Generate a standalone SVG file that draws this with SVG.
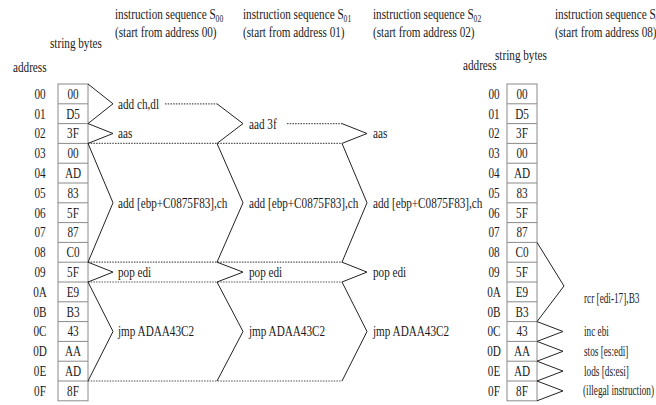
<svg xmlns="http://www.w3.org/2000/svg" width="656" height="405" viewBox="0 0 656 405">
<style>
text{font-family:"Liberation Serif","Times New Roman",serif;font-size:14px;fill:#1a1a1a}
.m{text-anchor:middle}
.sub{font-size:9.5px}
.box{fill:#fff;stroke:#8a8a8a;stroke-width:1}
.sep{stroke:#8a8a8a;stroke-width:1}
.ch{fill:none;stroke:#222;stroke-width:1}
.dot{fill:none;stroke:#555;stroke-width:1.2;stroke-dasharray:1.5 1.2}
</style>
<rect width="656" height="405" fill="#fff"/>

<g id="headings">
<text transform="translate(115 19) scale(0.8 1)">instruction sequence S<tspan class="sub" dy="3">00</tspan></text>
<text transform="translate(115 37) scale(0.8 1)">(start from address 00)</text>
<text transform="translate(243 19) scale(0.8 1)">instruction sequence S<tspan class="sub" dy="3">01</tspan></text>
<text transform="translate(243 37) scale(0.8 1)">(start from address 01)</text>
<text transform="translate(373 19) scale(0.8 1)">instruction sequence S<tspan class="sub" dy="3">02</tspan></text>
<text transform="translate(373 37) scale(0.8 1)">(start from address 02)</text>
<text transform="translate(555 19) scale(0.8 1)">instruction sequence S<tspan class="sub" dy="3">08</tspan></text>
<text transform="translate(555 37) scale(0.8 1)">(start from address 08)</text>
</g>

<g id="table-left">
<text transform="translate(50 48) scale(0.8 1)">string bytes</text>
<text transform="translate(13 72) scale(0.8 1)">address</text>
<rect class="box" x="58" y="84" width="30" height="316.8"/>
<path class="sep" d="M58 103.8H88M58 123.6H88M58 143.4H88M58 163.2H88M58 183H88M58 202.8H88M58 222.6H88M58 242.4H88M58 262.2H88M58 282H88M58 301.8H88M58 321.6H88M58 341.4H88M58 361.2H88M58 381H88"/>
<g class="m">
<text transform="translate(40 98.8) scale(0.8 1)">00</text>
<text transform="translate(40 118.6) scale(0.8 1)">01</text>
<text transform="translate(40 138.4) scale(0.8 1)">02</text>
<text transform="translate(40 158.2) scale(0.8 1)">03</text>
<text transform="translate(40 178) scale(0.8 1)">04</text>
<text transform="translate(40 197.8) scale(0.8 1)">05</text>
<text transform="translate(40 217.6) scale(0.8 1)">06</text>
<text transform="translate(40 237.4) scale(0.8 1)">07</text>
<text transform="translate(40 257.2) scale(0.8 1)">08</text>
<text transform="translate(40 277) scale(0.8 1)">09</text>
<text transform="translate(40 296.8) scale(0.8 1)">0A</text>
<text transform="translate(40 316.6) scale(0.8 1)">0B</text>
<text transform="translate(40 336.4) scale(0.8 1)">0C</text>
<text transform="translate(40 356.2) scale(0.8 1)">0D</text>
<text transform="translate(40 376) scale(0.8 1)">0E</text>
<text transform="translate(40 395.8) scale(0.8 1)">0F</text>
<text transform="translate(73 98.8) scale(0.8 1)">00</text>
<text transform="translate(73 118.6) scale(0.8 1)">D5</text>
<text transform="translate(73 138.4) scale(0.8 1)">3F</text>
<text transform="translate(73 158.2) scale(0.8 1)">00</text>
<text transform="translate(73 178) scale(0.8 1)">AD</text>
<text transform="translate(73 197.8) scale(0.8 1)">83</text>
<text transform="translate(73 217.6) scale(0.8 1)">5F</text>
<text transform="translate(73 237.4) scale(0.8 1)">87</text>
<text transform="translate(73 257.2) scale(0.8 1)">C0</text>
<text transform="translate(73 277) scale(0.8 1)">5F</text>
<text transform="translate(73 296.8) scale(0.8 1)">E9</text>
<text transform="translate(73 316.6) scale(0.8 1)">B3</text>
<text transform="translate(73 336.4) scale(0.8 1)">43</text>
<text transform="translate(73 356.2) scale(0.8 1)">AA</text>
<text transform="translate(73 376) scale(0.8 1)">AD</text>
<text transform="translate(73 395.8) scale(0.8 1)">8F</text>
</g>
</g>

<g id="table-right">
<text transform="translate(495 60) scale(0.8 1)">string bytes</text>
<text transform="translate(463 70) scale(0.8 1)">address</text>
<rect class="box" x="507" y="84" width="30" height="316.8"/>
<path class="sep" d="M507 103.8H537M507 123.6H537M507 143.4H537M507 163.2H537M507 183H537M507 202.8H537M507 222.6H537M507 242.4H537M507 262.2H537M507 282H537M507 301.8H537M507 321.6H537M507 341.4H537M507 361.2H537M507 381H537"/>
<g class="m">
<text transform="translate(494 98.8) scale(0.8 1)">00</text>
<text transform="translate(494 118.6) scale(0.8 1)">01</text>
<text transform="translate(494 138.4) scale(0.8 1)">02</text>
<text transform="translate(494 158.2) scale(0.8 1)">03</text>
<text transform="translate(494 178) scale(0.8 1)">04</text>
<text transform="translate(494 197.8) scale(0.8 1)">05</text>
<text transform="translate(494 217.6) scale(0.8 1)">06</text>
<text transform="translate(494 237.4) scale(0.8 1)">07</text>
<text transform="translate(494 257.2) scale(0.8 1)">08</text>
<text transform="translate(494 277) scale(0.8 1)">09</text>
<text transform="translate(494 296.8) scale(0.8 1)">0A</text>
<text transform="translate(494 316.6) scale(0.8 1)">0B</text>
<text transform="translate(494 336.4) scale(0.8 1)">0C</text>
<text transform="translate(494 356.2) scale(0.8 1)">0D</text>
<text transform="translate(494 376) scale(0.8 1)">0E</text>
<text transform="translate(494 395.8) scale(0.8 1)">0F</text>
<text transform="translate(522 98.8) scale(0.8 1)">00</text>
<text transform="translate(522 118.6) scale(0.8 1)">D5</text>
<text transform="translate(522 138.4) scale(0.8 1)">3F</text>
<text transform="translate(522 158.2) scale(0.8 1)">00</text>
<text transform="translate(522 178) scale(0.8 1)">AD</text>
<text transform="translate(522 197.8) scale(0.8 1)">83</text>
<text transform="translate(522 217.6) scale(0.8 1)">5F</text>
<text transform="translate(522 237.4) scale(0.8 1)">87</text>
<text transform="translate(522 257.2) scale(0.8 1)">C0</text>
<text transform="translate(522 277) scale(0.8 1)">5F</text>
<text transform="translate(522 296.8) scale(0.8 1)">E9</text>
<text transform="translate(522 316.6) scale(0.8 1)">B3</text>
<text transform="translate(522 336.4) scale(0.8 1)">43</text>
<text transform="translate(522 356.2) scale(0.8 1)">AA</text>
<text transform="translate(522 376) scale(0.8 1)">AD</text>
<text transform="translate(522 395.8) scale(0.8 1)">8F</text>
</g>
</g>

<g id="connectors">
<path class="dot" d="M165 103.8H217M287 123.6H342M88 143.4H342M88 262.2H342M88 282H342M88 381H342"/>
<path class="ch" d="M88 84L113 103.8L88 123.6L113 133.5L88 143.4L113 202.8L88 262.2L113 272.1L88 282L113 331.5L88 381"/>
<path class="ch" d="M217 103.8L243 123.6L217 143.4L243 202.8L217 262.2L243 272.1L217 282L243 331.5L217 381"/>
<path class="ch" d="M342 123.6L367 133.5L342 143.4L367 202.8L342 262.2L367 272.1L342 282L367 331.5L342 381"/>
<path class="ch" d="M537 242.4L564 286L537 321.6L563 331.5L537 341.4L563 351.3L537 361.2L563 371.1L537 381L563 390.9L537 400.8"/>
</g>

<g id="s00">
<text transform="translate(118 108.5) scale(0.8 1)">add ch,dl</text>
<text transform="translate(118 138) scale(0.8 1)">aas</text>
<text transform="translate(118 207.5) scale(0.8 1)">add [ebp+C0875F83],ch</text>
<text transform="translate(118 276.5) scale(0.8 1)">pop edi</text>
<text transform="translate(118 336) scale(0.8 1)">jmp ADAA43C2</text>
</g>
<g id="s01">
<text transform="translate(249 128.5) scale(0.8 1)">aad 3f</text>
<text transform="translate(249 207.5) scale(0.8 1)">add [ebp+C0875F83],ch</text>
<text transform="translate(249 276.5) scale(0.8 1)">pop edi</text>
<text transform="translate(249 336) scale(0.8 1)">jmp ADAA43C2</text>
</g>
<g id="s02">
<text transform="translate(373 138) scale(0.8 1)">aas</text>
<text transform="translate(373 207.5) scale(0.8 1)">add [ebp+C0875F83],ch</text>
<text transform="translate(373 276.5) scale(0.8 1)">pop edi</text>
<text transform="translate(373 336) scale(0.8 1)">jmp ADAA43C2</text>
</g>
<g id="s08">
<text transform="translate(584 303) scale(0.66 1)">rcr [edi-17],B3</text>
<text transform="translate(584 336) scale(0.66 1)">inc ebi</text>
<text transform="translate(584 355.8) scale(0.66 1)">stos [es:edi]</text>
<text transform="translate(584 375.6) scale(0.66 1)">lods [ds:esi]</text>
<text transform="translate(583 395.4) scale(0.66 1)">(illegal instruction)</text>
</g>
</svg>
